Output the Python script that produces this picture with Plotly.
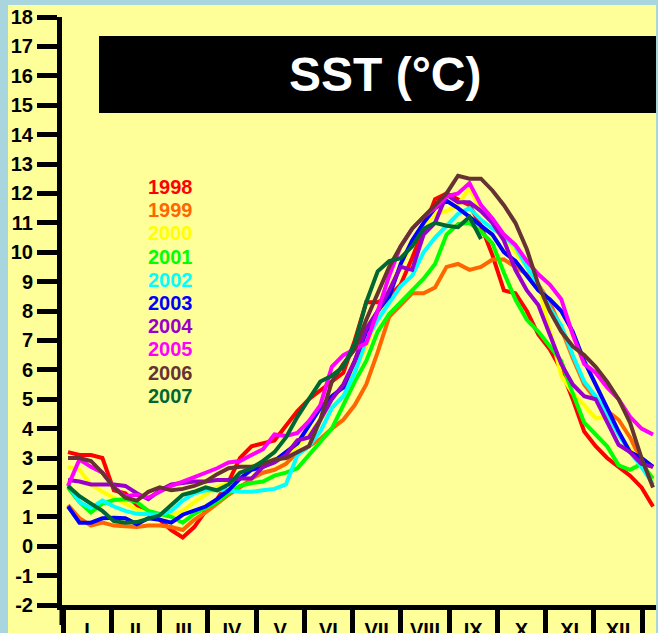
import plotly.graph_objects as go

# ---------------- data (weekly SST, °C) ----------------
years = ["1998", "1999", "2000", "2001", "2002", "2003", "2004", "2005", "2006", "2007"]
colors = ["#FF0000", "#FF6600", "#FFFF00", "#00FF00", "#00FFFF",
          "#0000FF", "#9900CC", "#FF00FF", "#663333", "#006633"]

sst_1998 = [3.2, 3.1, 3.1, 3.0, 1.9, 1.8, 1.4, 1.1, 0.9, 0.55, 0.3, 0.65, 1.2, 1.6, 2.2, 3.0,
            3.4, 3.5, 3.6, 4.1, 4.6, 5.0, 5.3, 5.6, 5.9, 7.0, 8.3, 8.3, 8.5, 8.9, 9.8, 10.8,
            11.8, 12.0, 11.8, 11.6, 10.9, 9.9, 8.7, 8.6, 8.0, 7.2, 6.7, 6.0, 5.0, 3.9, 3.4,
            3.0, 2.7, 2.4, 2.0, 1.35]
sst_1999 = [1.4, 0.95, 0.7, 0.8, 0.7, 0.66, 0.65, 0.7, 0.7, 0.65, 0.55, 0.9, 1.15, 1.45, 1.75,
            2.0, 2.3, 2.5, 2.6, 2.8, 3.2, 3.4, 3.65, 4.0, 4.3, 4.8, 5.5, 6.6, 7.8, 8.2, 8.6, 8.6,
            8.8, 9.5, 9.6, 9.4, 9.5, 9.75, 9.75, 9.5, 9.25, 8.9, 8.3, 7.4, 6.4, 5.5, 5.0, 4.6,
            4.3, 3.7, 2.9, 2.7]
sst_2000 = [2.7, 2.6, 2.1, 1.85, 1.65, 1.45, 1.25, 1.1, 1.05, 1.05, 1.2, 1.5, 1.75, 2.0, 2.15,
            2.3, 2.7, 2.85, 2.9, 3.1, 3.4, 3.8, 4.3, 4.75, 5.1, 6.0, 6.8, 7.8, 8.7, 9.5, 10.3,
            10.9, 11.3, 11.4, 11.6, 12.2, 11.4, 11.1, 10.6, 10.0, 9.5, 8.9, 7.4, 5.8, 5.2, 4.8,
            4.35, 4.4, 3.8, 3.3, 2.9, 2.2]
sst_2001 = [2.0, 1.5, 1.15, 1.45, 1.57, 1.6, 1.5, 1.2, 1.1, 1.0, 0.8, 1.1, 1.3, 1.5, 1.8, 2.05,
            2.15, 2.2, 2.4, 2.5, 2.65, 3.1, 3.6, 4.0, 4.8, 5.6, 6.3, 7.3, 7.9, 8.3, 8.7, 9.1, 9.6,
            10.6, 10.95, 11.0, 10.7, 10.3, 9.3, 8.4, 7.7, 7.3, 6.8, 6.3, 5.2, 4.2, 3.8, 3.4,
            2.75, 2.6, 2.8, 2.3]
sst_2002 = [2.1, 1.5, 1.3, 1.55, 1.35, 1.2, 1.1, 1.07, 1.07, 1.2, 1.55, 1.8, 1.9, 1.9, 1.9,
            1.85, 1.85, 1.9, 1.95, 2.1, 3.1, 3.4, 3.9, 4.7, 5.1, 5.9, 7.0, 7.7, 8.3, 8.85, 9.2,
            10.0, 10.5, 10.9, 11.3, 11.5, 11.1, 10.8, 10.55, 10.2, 9.5, 8.9, 8.1, 7.5, 6.5, 5.6,
            5.1, 4.5, 3.8, 3.2, 2.7, 2.1]
sst_2003 = [1.35, 0.8, 0.8, 0.95, 0.97, 0.95, 0.75, 0.95, 0.9, 0.8, 1.07, 1.2, 1.35, 1.6, 1.9,
            2.3, 2.6, 2.7, 2.9, 3.2, 3.5, 4.1, 4.7, 5.1, 5.4, 6.3, 7.3, 8.0, 8.5, 9.6, 10.4,
            11.0, 11.5, 11.75, 11.5, 11.2, 10.9, 10.6, 10.0, 9.7, 9.2, 8.7, 8.4, 8.0, 7.3, 6.3,
            5.5, 4.7, 3.9, 3.2, 3.0, 2.7]
sst_2004 = [2.25, 2.2, 2.1, 2.1, 2.1, 2.05, 1.8, 1.6, 1.9, 2.1, 2.15, 2.2, 2.2, 2.25, 2.25,
            2.3, 2.3, 2.7, 2.85, 3.1, 3.6, 3.7, 4.3, 5.0, 5.5, 6.3, 7.4, 8.0, 8.7, 9.5, 9.4,
            10.6, 11.0, 11.95, 11.7, 11.7, 11.4, 11.0, 10.4, 9.4, 8.7, 8.2, 7.2, 6.2, 5.5, 5.1,
            5.0, 4.2, 3.45, 3.2, 2.8, 2.7]
sst_2005 = [2.05, 2.95, 2.7, 2.5, 2.0, 1.7, 1.75, 1.65, 1.85, 2.05, 2.2, 2.35, 2.5, 2.65, 2.85,
            2.9, 3.1, 3.3, 3.8, 3.75, 3.85, 4.25, 4.8, 6.1, 6.5, 6.7, 6.9, 8.0, 9.2, 10.2, 10.8,
            11.2, 11.5, 11.9, 12.0, 12.35, 11.6, 11.15, 10.6, 10.25, 9.7, 9.25, 8.9, 8.4, 7.2,
            6.2, 5.9, 5.4, 5.0, 4.4, 4.0, 3.8]
sst_2006 = [3.0, 3.0, 2.9, 2.5, 2.0, 1.65, 1.55, 1.85, 2.0, 1.9, 1.95, 2.05, 2.2, 2.45, 2.65,
            2.7, 2.7, 2.8, 2.95, 3.0, 3.2, 3.4, 4.3, 5.6, 6.2, 6.7, 7.7, 8.6, 9.5, 10.2, 10.8,
            11.2, 11.6, 12.0, 12.6, 12.5, 12.5, 12.1, 11.6, 11.0, 10.1, 8.9, 8.0, 7.3, 6.8, 6.5,
            6.1, 5.6, 5.0, 4.2, 3.0, 2.0]
sst_2007 = [2.05, 1.7, 1.45, 1.2, 0.85, 0.8, 0.82, 0.95, 1.05, 1.4, 1.75, 1.85, 2.0, 1.9, 2.1,
            2.5, 2.65, 2.9, 3.2, 3.7, 4.4, 5.0, 5.6, 5.8, 6.1, 6.9, 8.3, 9.35, 9.7, 9.8, 10.2,
            10.8, 11.0, 10.9, 10.85, 11.2, 10.45]

series = [sst_1998, sst_1999, sst_2000, sst_2001, sst_2002,
          sst_2003, sst_2004, sst_2005, sst_2006, sst_2007]

months = ["I", "II", "III", "IV", "V", "VI", "VII", "VIII", "IX", "X", "XI", "XII"]
y_ticks = list(range(-2, 19))
y_tick_text = [str(v) for v in y_ticks]  # plain hyphen for negatives

# ---------------- axis geometry (week units) ----------------
WEEKS_PER_MONTH = 4.207
MONTH0 = 0.564
month_bounds = [MONTH0 + WEEKS_PER_MONTH * m for m in range(13)]
month_centers = [MONTH0 + WEEKS_PER_MONTH * (m + 0.5) for m in range(12)]
X_RANGE = [0.477, 52.26]

FONT = "Liberation Sans, Arial, sans-serif"

fig = go.Figure()
for yr, col, vals in zip(years, colors, series):
    weeks = list(range(1, len(vals) + 1))
    fig.add_trace(go.Scatter(x=weeks, y=vals, mode="lines", name=yr,
                             line=dict(color=col, width=4), showlegend=False))

# invisible trace on overlay axis so it renders
fig.add_trace(go.Scatter(x=[month_centers[0]], y=[None], xaxis="x2",
                         mode="lines", showlegend=False, hoverinfo="skip"))

fig.update_layout(
    width=658, height=633,
    margin=dict(l=62, r=2, t=17, b=28),
    paper_bgcolor="#A9D5DE",
    plot_bgcolor="#FFFF99",
    xaxis=dict(range=X_RANGE, tickvals=month_bounds, ticktext=[""] * 13,
               ticks="outside", ticklen=25, tickwidth=5, tickcolor="black",
               showline=True, linewidth=5, linecolor="black",
               showgrid=False, zeroline=False, automargin=False),
    xaxis2=dict(range=X_RANGE, overlaying="x", side="bottom",
                tickvals=month_centers, ticktext=months,
                ticks="outside", ticklen=7, tickcolor="rgba(0,0,0,0)",
                tickfont=dict(family=FONT, size=20, color="black", weight="bold"),
                showline=False, showgrid=False, zeroline=False, automargin=False),
    yaxis=dict(range=[-2, 18], tickvals=y_ticks, ticktext=y_tick_text,
               ticks="outside", ticklen=20, tickwidth=5, tickcolor="black",
               tickfont=dict(family=FONT, size=20, color="black", weight="bold"),
               showline=True, linewidth=5, linecolor="black",
               showgrid=False, zeroline=False, automargin=False),
    shapes=[
        # yellow panel
        dict(type="rect", xref="paper", yref="paper",
             x0=-0.0909, x1=1.0, y0=-0.06, y1=1.0204,
             fillcolor="#FFFF99", line=dict(width=0), layer="below"),
        # y axis extension below x axis
        dict(type="line", xref="paper", yref="paper",
             x0=0, x1=0, y0=0, y1=-0.034,
             line=dict(color="black", width=5)),
        # title box
        dict(type="rect", xref="paper", yref="paper",
             x0=0.0623, x1=1.0, y0=0.8367, y1=0.9677,
             fillcolor="black", line=dict(width=0)),
    ],
)

annotations = [dict(text="SST (°C)", xref="paper", yref="paper", x=0.545, y=0.902,
                    xanchor="center", yanchor="middle", showarrow=False,
                    font=dict(family=FONT, size=48, color="white", weight="bold"))]
LEG_X = 0.1414
LEG_Y0 = (605 - 187) / 588
LEG_DY = 23.2 / 588
for i, (yr, col) in enumerate(zip(years, colors)):
    annotations.append(dict(text=yr, xref="paper", yref="paper",
                            x=LEG_X, y=LEG_Y0 - i * LEG_DY,
                            xanchor="left", yanchor="middle", showarrow=False,
                            font=dict(family=FONT, size=20, color=col, weight="bold")))
fig.update_layout(annotations=annotations)

fig.write_html("out.html")
